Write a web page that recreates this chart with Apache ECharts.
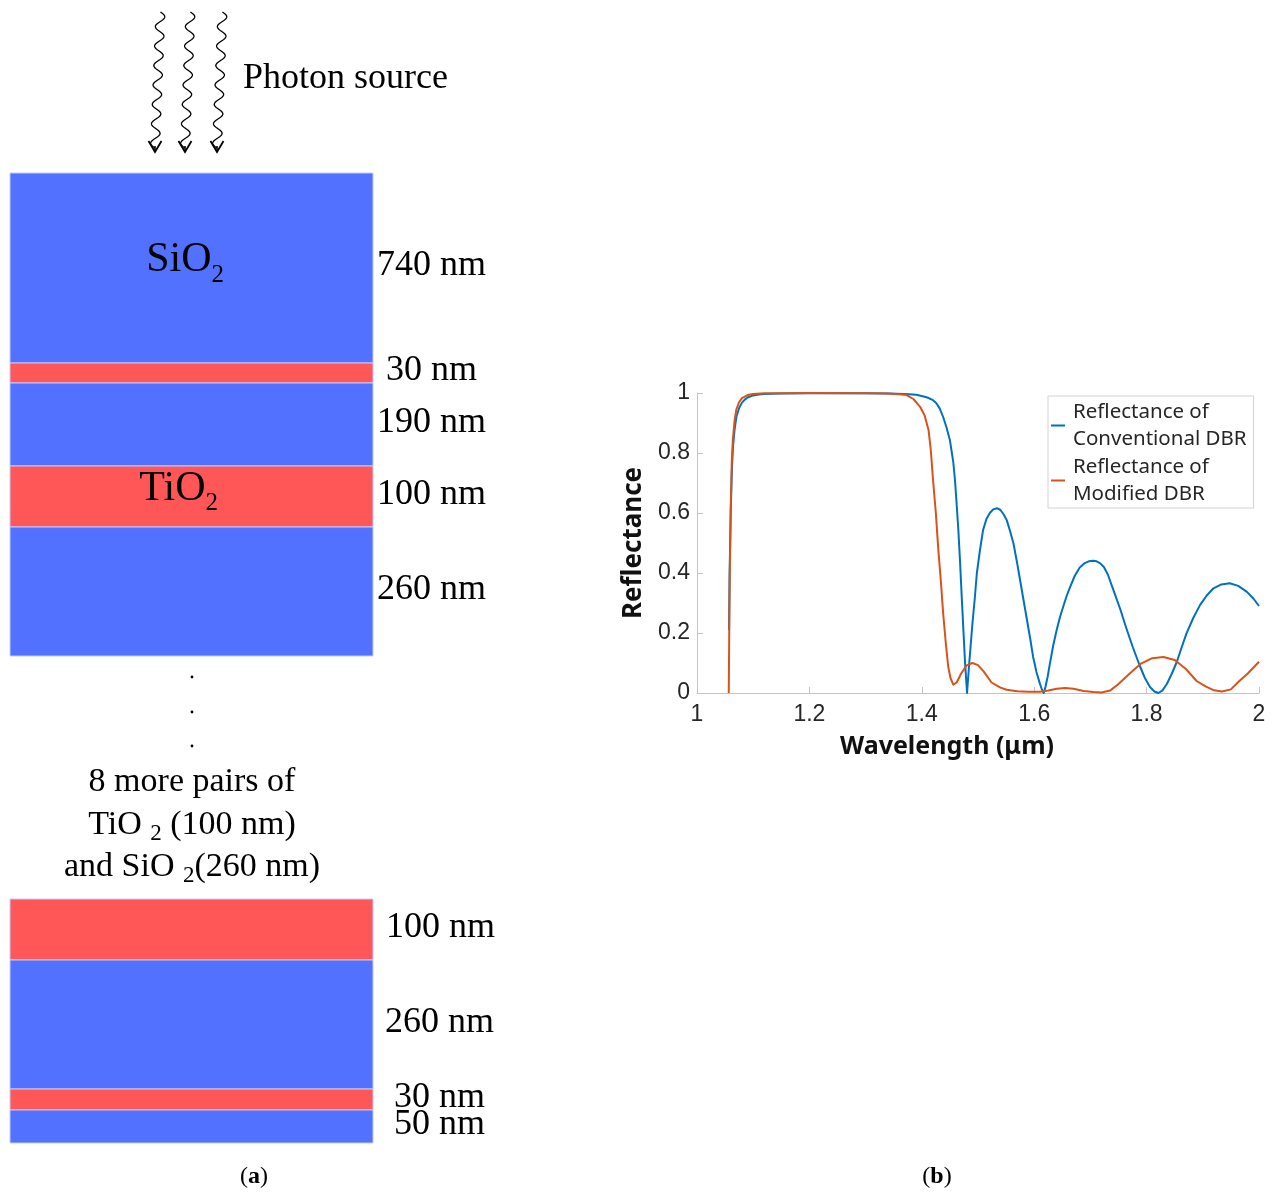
<!DOCTYPE html>
<html>
<head>
<meta charset="utf-8">
<title>DBR stack and reflectance</title>
<script src="https://cdn.jsdelivr.net/npm/echarts@6/dist/echarts.min.js"></script>
<style>
  html, body { margin: 0; padding: 0; background: #fff; }
  #chart { width: 1277px; height: 1192px; }
</style>
</head>
<body>
<div id="chart"></div>
<script>
// (b) reflectance spectra, wavelength in um
var convX = [1.057, 1.058, 1.060, 1.062, 1.064, 1.067, 1.070, 1.075, 1.080, 1.085,
  1.090, 1.100, 1.110, 1.120, 1.150, 1.200, 1.250, 1.300, 1.340, 1.370,
  1.390, 1.400, 1.410, 1.420, 1.426, 1.432, 1.438, 1.444, 1.450, 1.456,
  1.459, 1.462, 1.465, 1.468, 1.471, 1.474, 1.477, 1.4805, 1.484, 1.487,
  1.490, 1.494, 1.498, 1.503, 1.509, 1.515, 1.521, 1.527, 1.534, 1.540,
  1.546, 1.551, 1.557, 1.563, 1.569, 1.575, 1.581, 1.587, 1.593, 1.598,
  1.604, 1.610, 1.614, 1.617, 1.620, 1.624, 1.628, 1.634, 1.640, 1.646,
  1.652, 1.658, 1.664, 1.672, 1.681, 1.690, 1.697, 1.705, 1.711, 1.717,
  1.724, 1.731, 1.741, 1.753, 1.765, 1.776, 1.788, 1.797, 1.806, 1.814,
  1.821, 1.828, 1.836, 1.845, 1.854, 1.862, 1.871, 1.883, 1.895, 1.907,
  1.919, 1.933, 1.948, 1.963, 1.978, 1.990, 2.000]
var convY = [0.21, 0.40, 0.60, 0.74, 0.82, 0.88, 0.92, 0.95, 0.968, 0.978,
  0.985, 0.992, 0.995, 0.997, 0.998, 0.999, 0.999, 0.999, 0.998, 0.997,
  0.994, 0.99, 0.985, 0.976, 0.966, 0.948, 0.92, 0.885, 0.843, 0.77,
  0.71, 0.63, 0.544, 0.44, 0.322, 0.21, 0.10, 0.0, 0.09, 0.16,
  0.23, 0.31, 0.40, 0.47, 0.543, 0.58, 0.60, 0.612, 0.616, 0.61,
  0.594, 0.577, 0.54, 0.499, 0.44, 0.375, 0.31, 0.245, 0.18, 0.121,
  0.07, 0.032, 0.01, 0.0, 0.02, 0.055, 0.099, 0.16, 0.21, 0.254,
  0.29, 0.325, 0.354, 0.39, 0.418, 0.433, 0.439, 0.441, 0.439, 0.433,
  0.42, 0.395, 0.343, 0.28, 0.21, 0.15, 0.09, 0.05, 0.02, 0.005,
  0.0, 0.008, 0.03, 0.065, 0.105, 0.15, 0.199, 0.25, 0.293, 0.325,
  0.349, 0.362, 0.366, 0.357, 0.338, 0.315, 0.29]

var modX = [1.0565, 1.058, 1.060, 1.062, 1.064, 1.067, 1.070, 1.075, 1.080, 1.090,
  1.100, 1.120, 1.150, 1.200, 1.300, 1.340, 1.360, 1.373, 1.385, 1.397,
  1.405, 1.412, 1.416, 1.420, 1.425, 1.429, 1.434, 1.438, 1.443, 1.447,
  1.451, 1.456, 1.462, 1.470, 1.480, 1.490, 1.500, 1.510, 1.524, 1.540,
  1.551, 1.570, 1.590, 1.610, 1.625, 1.640, 1.655, 1.670, 1.688, 1.705,
  1.720, 1.735, 1.750, 1.770, 1.790, 1.810, 1.830, 1.850, 1.870, 1.889,
  1.905, 1.920, 1.934, 1.950, 1.965, 1.980, 2.000]
var modY = [0.0, 0.35, 0.62, 0.78, 0.85, 0.91, 0.945, 0.97, 0.983, 0.993,
  0.997, 0.999, 0.999, 1.0, 0.999, 0.998, 0.996, 0.993, 0.98, 0.954,
  0.925, 0.877, 0.81, 0.71, 0.60, 0.488, 0.37, 0.266, 0.16, 0.088,
  0.05, 0.028, 0.035, 0.065, 0.092, 0.100, 0.093, 0.072, 0.035, 0.018,
  0.011, 0.006, 0.004, 0.004, 0.008, 0.014, 0.017, 0.014, 0.007, 0.003,
  0.002, 0.008, 0.03, 0.065, 0.098, 0.116, 0.120, 0.110, 0.080, 0.040,
  0.022, 0.009, 0.005, 0.012, 0.040, 0.065, 0.104]

// (a) layer stack, top part and bottom part
var topLayerNm = [740, 30, 190, 100, 260]
var topLayerMat = ['SiO', 'TiO', 'SiO', 'TiO', 'SiO']
var topLayerShowName = [true, false, false, true, false]
var topLayerDrawn = [190, 20, 83, 61, 129] // drawn thickness, not to scale
var bottomLayerNm = [100, 260, 30, 50]
var bottomLayerMat = ['TiO', 'SiO', 'TiO', 'SiO']
var bottomLayerShowName = [false, false, false, false]
var bottomLayerDrawn = [61, 129, 21, 33]

var BLUE = '#5271ff'
var RED = '#ff5757'
var SERIF = 'Liberation Serif'

function zip(xs, ys) {
  var out = []
  for (var i = 0; i < xs.length; i++) out.push([xs[i], ys[i]])
  return out
}

function sum(a) {
  var s = 0
  for (var i = 0; i < a.length; i++) s += a[i]
  return s
}

function txt(s, x, y, size, align) {
  return {
    type: 'text',
    style: {
      text: s, x: x, y: y, fill: '#000', fontFamily: SERIF, fontSize: size,
      align: align, verticalAlign: 'middle', textAlign: align, textVerticalAlign: 'middle'
    }
  }
}

// labelDx / nameDx only nudge the texts like in the drawing
function layerSeries(idx, drawn, nm, mat, showName, labelDx, nameDx) {
  var data = []
  var acc = 0
  for (var i = 0; i < drawn.length; i++) {
    data.push([acc, acc + drawn[i], i])
    acc += drawn[i]
  }
  return {
    type: 'custom',
    xAxisIndex: idx,
    yAxisIndex: idx,
    silent: true,
    clip: false,
    data: data,
    renderItem: function (params, api) {
      var i = api.value(2)
      var p0 = api.coord([0, api.value(0)])
      var p1 = api.coord([1, api.value(1)])
      var midY = (p0[1] + p1[1]) / 2
      var children = [{
        type: 'rect',
        shape: { x: p0[0], y: p0[1], width: p1[0] - p0[0], height: p1[1] - p0[1] },
        style: { fill: mat[i] === 'TiO' ? RED : BLUE, stroke: '#c3cbff', lineWidth: 1 }
      }, txt(nm[i] + ' nm', p1[0] + labelDx[i], midY - 2, 36, 'left')]
      if (showName[i]) {
        var sx = (p0[0] + p1[0]) / 2 + nameDx[i]
        children.push(txt(mat[i], sx, midY - 8, 42, 'right'))
        children.push(txt('2', sx, midY + 7, 25, 'left'))
      }
      return { type: 'group', children: children }
    }
  }
}

function wave(cx) {
  var pts = []
  var top = 12, bottom = 148, period = (bottom - top) / 7
  for (var y = top; y <= bottom; y += 0.5) {
    var drift = (bottom - y) * 0.04
    pts.push([cx + drift + 4.5 * Math.sin((y - top) / period * 2 * Math.PI), y])
  }
  return pts
}

var photonX = [155, 185, 217]
var graphics = []
photonX.forEach(function (cx) {
  graphics.push({ type: 'polyline', shape: { points: wave(cx), smooth: 0 }, style: { stroke: '#000', lineWidth: 1.3, fill: null } })
  graphics.push({ type: 'polyline', shape: { points: [[cx - 6.5, 141], [cx, 152], [cx + 6.5, 141]] }, style: { stroke: '#000', lineWidth: 1.8, fill: null } })
  graphics.push({ type: 'line', shape: { x1: cx, y1: 146, x2: cx, y2: 152 }, style: { stroke: '#000', lineWidth: 1.5 } })
})
graphics.push({ type: 'text', left: 243, top: 61, style: { text: 'Photon source', fontFamily: SERIF, fontSize: 36, fill: '#000' } })
;[677, 712, 746].forEach(function (y) {
  graphics.push({ type: 'circle', shape: { cx: 192, cy: y, r: 1.4 }, style: { fill: '#000' } })
})
var pairRich = {
  a: { fontFamily: SERIF, fontSize: 34, lineHeight: 40, fill: '#000', verticalAlign: 'middle' },
  s: { fontFamily: SERIF, fontSize: 23, lineHeight: 14, fill: '#000', verticalAlign: 'bottom' }
}
var pairLines = ['{a|8 more pairs of}', '{a|TiO }{s|2}{a| (100 nm)}', '{a|and SiO }{s|2}{a|(260 nm)}']
var pairY = [782, 825, 867]
pairLines.forEach(function (t, i) {
  graphics.push({ type: 'text', x: 192, y: pairY[i], style: { text: t, rich: pairRich, align: 'center', verticalAlign: 'middle' } })
})
var capRich = {
  p: { fontFamily: SERIF, fontSize: 24, fill: '#000' },
  b: { fontFamily: SERIF, fontSize: 24, fontWeight: 'bold', fill: '#000' }
}
graphics.push({ type: 'text', x: 254, y: 1177, style: { text: '{p|(}{b|a}{p|)}', rich: capRich, align: 'center', verticalAlign: 'middle' } })
graphics.push({ type: 'text', x: 937, y: 1177, style: { text: '{p|(}{b|b}{p|)}', rich: capRich, align: 'center', verticalAlign: 'middle' } })

var axisGray = '#c4c4c4'
var tickFont = { fontFamily: 'Liberation Sans', fontSize: 23, color: '#262626' }
var titleFont = { fontFamily: 'Noto Sans', fontWeight: 'bold', fontSize: 25, color: '#111' }

var chart = echarts.init(document.getElementById('chart'))
chart.setOption({
  backgroundColor: '#fff',
  animation: false,
  graphic: graphics,
  grid: [
    { left: 697, top: 393, width: 562, height: 300, outerBoundsMode: 'none' },
    { left: 10, top: 173, width: 363, height: sum(topLayerDrawn), outerBoundsMode: 'none' },
    { left: 10, top: 899, width: 363, height: sum(bottomLayerDrawn), outerBoundsMode: 'none' }
  ],
  legend: {
    data: ['Reflectance of\nConventional DBR', 'Reflectance of\nModified DBR'],
    orient: 'vertical',
    left: 1048,
    top: 396,
    padding: [2, 7, 0, 3],
    itemGap: 0,
    itemWidth: 14,
    itemHeight: 2,
    icon: 'rect',
    backgroundColor: '#fff',
    borderColor: '#d2d2d2',
    borderWidth: 1,
    borderRadius: 0,
    textStyle: { fontFamily: 'Noto Sans', fontSize: 20.5, lineHeight: 27.5, color: '#262626', padding: [0, 0, 0, 3] }
  },
  xAxis: [{
    type: 'value',
    gridIndex: 0,
    min: 1,
    max: 2,
    interval: 0.2,
    name: 'Wavelength (μm)',
    nameLocation: 'middle',
    nameGap: 41,
    nameTextStyle: Object.assign({ padding: [0, 62, 0, 0] }, titleFont),
    axisLine: { show: true, lineStyle: { color: axisGray, width: 1 } },
    axisTick: { show: true, inside: true, length: 6, lineStyle: { color: axisGray } },
    axisLabel: Object.assign({ margin: 10 }, tickFont),
    splitLine: { show: false }
  }, {
    type: 'value', gridIndex: 1, min: 0, max: 1, show: false
  }, {
    type: 'value', gridIndex: 2, min: 0, max: 1, show: false
  }],
  yAxis: [{
    type: 'value',
    gridIndex: 0,
    min: 0,
    max: 1,
    interval: 0.2,
    name: 'Reflectance',
    nameLocation: 'middle',
    nameGap: 50,
    nameTextStyle: Object.assign({}, titleFont, { fontSize: 26 }),
    axisLine: { show: true, lineStyle: { color: axisGray, width: 1 } },
    axisTick: { show: true, inside: true, length: 6, lineStyle: { color: axisGray } },
    axisLabel: Object.assign({ margin: 7 }, tickFont),
    splitLine: { show: false }
  }, {
    type: 'value', gridIndex: 1, min: 0, max: sum(topLayerDrawn), inverse: true, show: false
  }, {
    type: 'value', gridIndex: 2, min: 0, max: sum(bottomLayerDrawn), inverse: true, show: false
  }],
  series: [{
    name: 'Reflectance of\nConventional DBR',
    type: 'line',
    xAxisIndex: 0,
    yAxisIndex: 0,
    data: zip(convX, convY),
    showSymbol: false,
    smooth: false,
    lineStyle: { color: '#0072BD', width: 2, join: 'round' },
    itemStyle: { color: '#0072BD' }
  }, {
    name: 'Reflectance of\nModified DBR',
    type: 'line',
    xAxisIndex: 0,
    yAxisIndex: 0,
    data: zip(modX, modY),
    showSymbol: false,
    smooth: false,
    lineStyle: { color: '#D95319', width: 2, join: 'round' },
    itemStyle: { color: '#D95319' }
  },
  layerSeries(1, topLayerDrawn, topLayerNm, topLayerMat, topLayerShowName, [4, 13, 4, 4, 4], [20, 0, 0, 14, 0]),
  layerSeries(2, bottomLayerDrawn, bottomLayerNm, bottomLayerMat, bottomLayerShowName, [13, 12, 21, 21], [0, 0, 0, 0])
  ]
})
</script>
</body>
</html>
